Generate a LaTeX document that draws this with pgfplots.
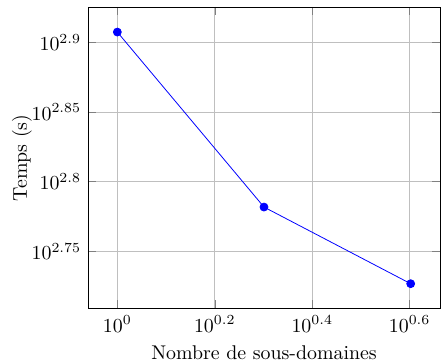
\documentclass[border=0pt]{standalone}
\usepackage{pgfplots}
\pgfplotsset{compat=1.18}
\begin{document}
\begin{tikzpicture}
\begin{loglogaxis}[
  scale only axis,
  width=177.2pt, height=152pt,
  xlabel={Nombre de sous-domaines},
  ylabel={Temps (s)},
  ylabel shift=-7pt,
  grid=major,
  xtick={1,1.58489,2.51189,3.98107},
  xticklabels={$10^{0}$,$10^{0.2}$,$10^{0.4}$,$10^{0.6}$},
  ytick={562.341,630.957,707.946,794.328},
  yticklabels={$10^{2.75}$,$10^{2.8}$,$10^{2.85}$,$10^{2.9}$},
]
\addplot[blue, mark=*] coordinates {(1,808) (2,605) (4,533)};
\end{loglogaxis}
\pgfresetboundingbox
\path[use as bounding box] ([xshift=-44.3pt,yshift=-27.7pt]current axis.south west) rectangle ([xshift=0.5pt,yshift=3.5pt]current axis.north east);
\end{tikzpicture}
\end{document}
